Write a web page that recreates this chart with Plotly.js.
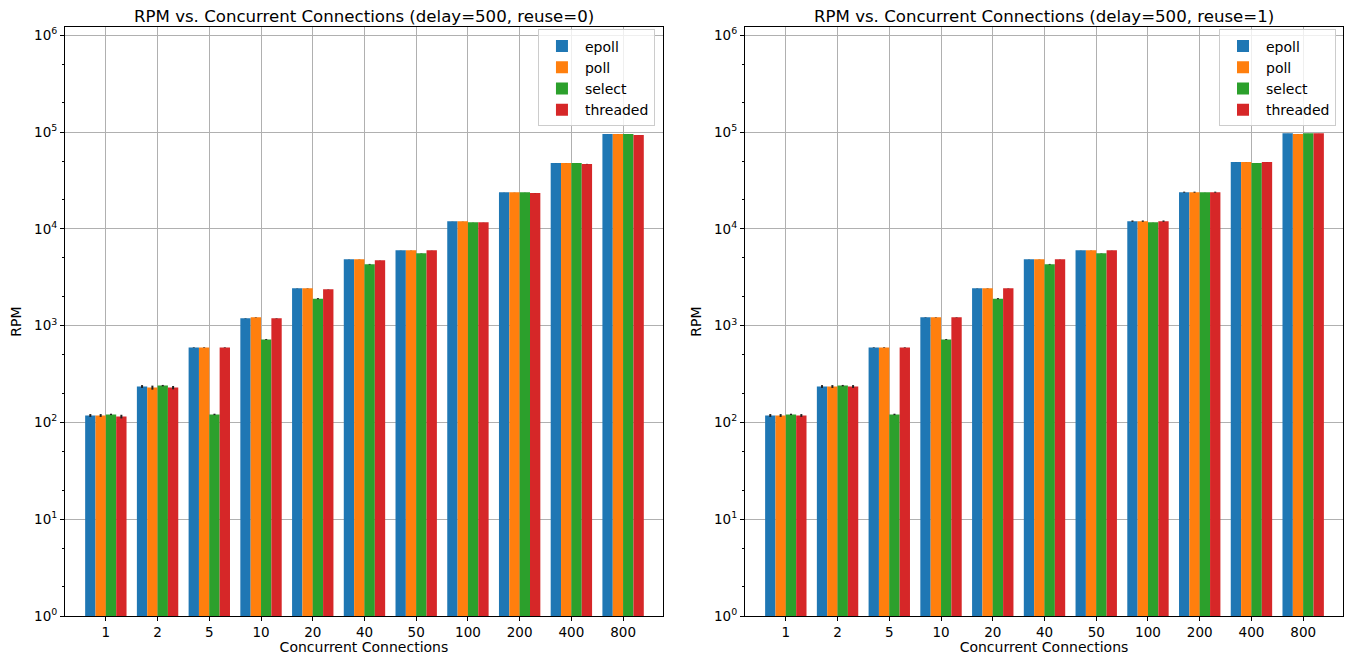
<!DOCTYPE html>
<html>
<head>
<meta charset="utf-8">
<script src="https://cdn.plot.ly/plotly-3.0.1.min.js"></script>
<style>html,body{margin:0;padding:0;background:#fff}#chart{width:1351px;height:655px}</style>
</head>
<body>
<div id="chart"></div>
<script>
const connections = ["1","2","5","10","20","40","50","100","200","400","800"];
const seriesNames = ["epoll","poll","select","threaded"];
const colors = ["#1f77b4","#ff7f0e","#2ca02c","#d62728"];

// reuse=0
const epoll0    = [118, 235, 595, 1190, 2430, 4840, 6000, 12000, 23900, 47800, 95300];
const poll0     = [118, 229, 595, 1220, 2430, 4840, 6000, 12000, 23900, 47800, 95300];
const select0   = [121, 240, 121,  720, 1900, 4300, 5590, 11700, 23900, 47800, 95300];
const threaded0 = [115, 229, 595, 1190, 2370, 4730, 6000, 11700, 23400, 46700, 93000];
const epoll0Err    = [4, 8, 4, 6, 8, 10, 10, 20, 30, 40, 60];
const poll0Err     = [4, 11, 4, 6, 8, 10, 10, 20, 30, 40, 60];
const select0Err   = [2, 4, 2, 8, 25, 40, 20, 20, 30, 40, 60];
const threaded0Err = [5, 9, 4, 6, 8, 10, 10, 20, 30, 200, 60];

// reuse=1
const epoll1    = [118, 235, 595, 1220, 2430, 4840, 6000, 12000, 23900, 48900, 97000];
const poll1     = [118, 235, 595, 1220, 2430, 4840, 6000, 12000, 23900, 48900, 95300];
const select1   = [121, 240, 121,  720, 1900, 4300, 5590, 11700, 23900, 47800, 97000];
const threaded1 = [118, 235, 595, 1220, 2430, 4840, 6000, 12000, 23900, 48900, 97000];
const epoll1Err    = [4, 8, 4, 6, 8, 10, 10, 200, 300, 40, 60];
const poll1Err     = [4, 8, 4, 6, 8, 10, 10, 200, 300, 40, 60];
const select1Err   = [2, 4, 2, 8, 25, 40, 20, 20, 30, 40, 60];
const threaded1Err = [4, 8, 4, 6, 8, 10, 10, 200, 300, 40, 60];

const titles = ["RPM vs. Concurrent Connections (delay=500, reuse=0)",
                "RPM vs. Concurrent Connections (delay=500, reuse=1)"];
const yTickVals = [1, 10, 100, 1000, 10000, 100000, 1000000];
const yTickText = ["10<sup>0</sup>","10<sup>1</sup>","10<sup>2</sup>","10<sup>3</sup>","10<sup>4</sup>","10<sup>5</sup>","10<sup>6</sup>"];

const panels = [
  {vals:[epoll0,poll0,select0,threaded0], errs:[epoll0Err,poll0Err,select0Err,threaded0Err], xa:"x", ya:"y", lg:"legend"},
  {vals:[epoll1,poll1,select1,threaded1], errs:[epoll1Err,poll1Err,select1Err,threaded1Err], xa:"x2", ya:"y2", lg:"legend2"}
];

const data = [];
panels.forEach(p => {
  seriesNames.forEach((name, i) => {
    data.push({
      type: "bar",
      name: name,
      x: connections,
      y: p.vals[i],
      xaxis: p.xa,
      yaxis: p.ya,
      legend: p.lg,
      marker: {color: colors[i], line: {width: 0}},
      error_y: {type: "data", array: p.errs[i], visible: true, color: "#222", thickness: 2, width: 0}
    });
  });
});

const FAM = "DejaVu Sans, sans-serif";
const font = {family: FAM, size: 14, color: "#000"};
function xaxis(domain, anchor) {
  return {
    domain: domain, anchor: anchor, type: "category",
    range: [-0.79, 10.77],
    showgrid: true, gridcolor: "#b0b0b0", gridwidth: 1,
    showline: true, linecolor: "#000", linewidth: 1, mirror: true,
    ticks: "outside", ticklen: 4, tickcolor: "#000",
    tickfont: {family: FAM, size: 13.5},
    title: {text: "Concurrent Connections", font: {family: FAM, size: 14}, standoff: 3},
    zeroline: false, fixedrange: true
  };
}
function yaxis(anchor) {
  return {
    domain: [0.0595, 0.9588], anchor: anchor, type: "log",
    range: [0, 6.085],
    tickvals: yTickVals, ticktext: yTickText,
    showgrid: true, gridcolor: "#b0b0b0", gridwidth: 1,
    showline: true, linecolor: "#000", linewidth: 1, mirror: true,
    ticks: "outside", ticklen: 4, tickcolor: "#000",
    minor: {ticks: "outside", ticklen: 2, tickcolor: "#000", showgrid: false},
    tickfont: {family: FAM, size: 13.5},
    title: {text: "RPM", font: {family: FAM, size: 14}, standoff: 9},
    zeroline: false, fixedrange: true
  };
}
const legendStyle = (x) => ({
  x: x, y: 0.955, xanchor: "right", yanchor: "top",
  bgcolor: "rgba(255,255,255,0.8)", bordercolor: "#cccccc", borderwidth: 1,
  font: {family: FAM, size: 14}, tracegroupgap: 0, itemwidth: 36
});

const layout = {
  width: 1351, height: 655,
  margin: {l: 0, r: 0, t: 0, b: 0},
  paper_bgcolor: "#fff", plot_bgcolor: "#fff",
  font: font,
  barmode: "group", bargap: 0.2, bargroupgap: 0,
  showlegend: true,
  xaxis: xaxis([0.0481, 0.4907], "y"),
  yaxis: yaxis("x"),
  xaxis2: xaxis([0.5514, 0.9941], "y2"),
  yaxis2: yaxis("x2"),
  legend: legendStyle(0.4848),
  legend2: legendStyle(0.9889),
  annotations: [
    {text: titles[0], x: 0.2694, y: 1 - 17/655, xref: "paper", yref: "paper", showarrow: false, xanchor: "center", yanchor: "middle", font: {family: FAM, size: 16.6}},
    {text: titles[1], x: 0.7727, y: 1 - 17/655, xref: "paper", yref: "paper", showarrow: false, xanchor: "center", yanchor: "middle", font: {family: FAM, size: 16.6}}
  ]
};

Plotly.newPlot("chart", data, layout, {displayModeBar: false, staticPlot: true});
</script>
</body>
</html>
